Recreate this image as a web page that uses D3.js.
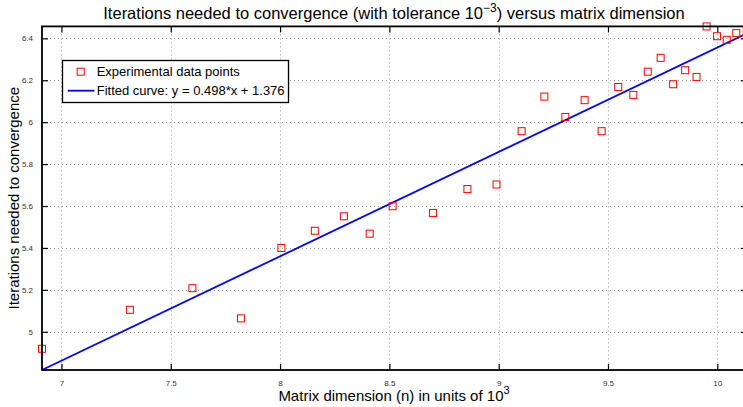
<!DOCTYPE html>
<html><head><meta charset="utf-8">
<script src="https://cdn.jsdelivr.net/npm/d3@7"></script>
<style>
html,body{margin:0;padding:0;background:#fff;overflow:hidden}
text{font-family:"Liberation Sans",Arial,sans-serif}
</style></head>
<body><svg id="chart" width="743" height="407"></svg>
<script>
const xValues = [6.911, 7.313, 7.599, 7.821, 8.006, 8.159, 8.292, 8.410, 8.515, 8.700, 8.857, 8.990,
  9.105, 9.209, 9.305, 9.393, 9.471, 9.547, 9.616, 9.682, 9.741, 9.798, 9.853, 9.905, 9.951, 9.999, 10.043, 10.087, 10.135];
const yValues = [4.919, 5.105, 5.208, 5.064, 5.400, 5.482, 5.551, 5.468, 5.599, 5.567, 5.681, 5.703,
  5.957, 6.122, 6.025, 6.105, 5.957, 6.168, 6.130, 6.241, 6.307, 6.181, 6.248, 6.216, 6.457, 6.410, 6.393, 6.425, 6.430];
const fitSlope = 0.498, fitIntercept = 1.376;
const xTicks = [7, 7.5, 8, 8.5, 9, 9.5, 10];
const xTickLabels = ["7", "7.5", "8", "8.5", "9", "9.5", "10"];
const yTicks = [5, 5.2, 5.4, 5.6, 5.8, 6, 6.2, 6.4];
const yTickLabels = ["5", "5.2", "5.4", "5.6", "5.8", "6", "6.2", "6.4"];
const legendLabels = ["Experimental data points", "Fitted curve: y = 0.498*x + 1.376"];

const svg = d3.select("#chart");
const L = 42, R = 746.8, T = 26.4, B = 370;
const xMin = d3.min(xValues), xMax = d3.max(xValues);
const yMin = fitSlope * xMin + fitIntercept, yMax = d3.max(yValues);
const x = d3.scaleLinear().domain([xMin, xMax]).range([L, R]);
const y = d3.scaleLinear().domain([yMin, yMax]).range([B, T]);

// grid
const grid = svg.append("g").attr("stroke", "#999").attr("stroke-width", 1).attr("stroke-dasharray", "1,3");
grid.selectAll("line.gx").data(xTicks).join("line")
  .attr("x1", d => Math.round(x(d)) + 0.5).attr("x2", d => Math.round(x(d)) + 0.5)
  .attr("y1", T).attr("y2", B);
grid.selectAll("line.gy").data(yTicks).join("line")
  .attr("y1", d => Math.round(y(d)) + 0.5).attr("y2", d => Math.round(y(d)) + 0.5)
  .attr("x1", L).attr("x2", R);

// axes with inward ticks
const tickLen = 6;
const axB = svg.append("g").attr("transform", `translate(0,${B})`)
  .call(d3.axisBottom(x).tickValues(xTicks).tickFormat((d, i) => xTickLabels[i]).tickSizeInner(-tickLen).tickSizeOuter(0).tickPadding(tickLen + 5));
const axT = svg.append("g").attr("transform", `translate(0,${T})`)
  .call(d3.axisTop(x).tickValues(xTicks).tickFormat("").tickSizeInner(-tickLen).tickSizeOuter(0));
const axL = svg.append("g").attr("transform", `translate(${L},0)`)
  .call(d3.axisLeft(y).tickValues(yTicks).tickFormat((d, i) => yTickLabels[i]).tickSizeInner(-tickLen).tickSizeOuter(0).tickPadding(tickLen + 3));
const axR = svg.append("g").attr("transform", `translate(${R},0)`)
  .call(d3.axisRight(y).tickValues(yTicks).tickFormat("").tickSizeInner(-tickLen).tickSizeOuter(0));
[axB, axT, axL, axR].forEach(a => {
  a.select(".domain").remove();
  a.selectAll(".tick line").attr("stroke", "#000").attr("stroke-width", 1.2);
  a.selectAll(".tick text").attr("font-size", 8).attr("fill", "#333")
    .attr("font-family", "'Liberation Sans', Arial, sans-serif");
});
axB.selectAll(".tick text").attr("dy", "0.6em");

// fitted line
svg.append("line")
  .attr("x1", x(xMin)).attr("y1", y(fitSlope * xMin + fitIntercept))
  .attr("x2", x(xMax)).attr("y2", y(fitSlope * xMax + fitIntercept))
  .attr("stroke", "#0000ff").attr("stroke-width", 1.8);

// points
const ms = 7;
svg.append("g").selectAll("rect").data(xValues).join("rect")
  .attr("x", (d) => x(d) - ms / 2).attr("y", (d, i) => y(yValues[i]) - ms / 2)
  .attr("width", ms).attr("height", ms)
  .attr("fill", "none").attr("stroke", "#ff0000").attr("stroke-width", 1);

// frame
svg.append("rect").attr("x", L).attr("y", T).attr("width", R - L).attr("height", B - T)
  .attr("fill", "none").attr("stroke", "#000").attr("stroke-width", 1.8);

// legend
const lg = svg.append("g");
lg.append("rect").attr("x", 62.5).attr("y", 60.5).attr("width", 226).attr("height", 42)
  .attr("fill", "#fff").attr("stroke", "#000").attr("stroke-width", 1.3);
lg.append("rect").attr("x", 80.7 - 3.5).attr("y", 71.7 - 3.5).attr("width", 7).attr("height", 7)
  .attr("fill", "none").attr("stroke", "#ff0000").attr("stroke-width", 1);
lg.append("line").attr("x1", 67.7).attr("x2", 94.3).attr("y1", 90.7).attr("y2", 90.7)
  .attr("stroke", "#0000ff").attr("stroke-width", 1.8);
lg.append("text").attr("x", 96.7).attr("y", 76.3).attr("font-size", 13).text(legendLabels[0]);
lg.append("text").attr("x", 96.7).attr("y", 95.3).attr("font-size", 13).text(legendLabels[1]);

// title
const title = svg.append("text").attr("x", 394).attr("y", 19).attr("text-anchor", "middle").attr("font-size", 16.5);
title.append("tspan").text("Iterations needed to convergence (with tolerance 10");
title.append("tspan").attr("dy", -7).attr("font-size", 12).text("−3");
title.append("tspan").attr("dy", 7).text(") versus matrix dimension");

// x label
const xl = svg.append("text").attr("x", 394).attr("y", 401).attr("text-anchor", "middle").attr("font-size", 15);
xl.append("tspan").text("Matrix dimension (n) in units of 10");
xl.append("tspan").attr("dy", -7).attr("font-size", 11).text("3");

// y label
svg.append("text").attr("transform", `translate(19,${(T + B) / 2}) rotate(-90)`)
  .attr("text-anchor", "middle").attr("font-size", 15).text("Iterations needed to convergence");
</script></body></html>
